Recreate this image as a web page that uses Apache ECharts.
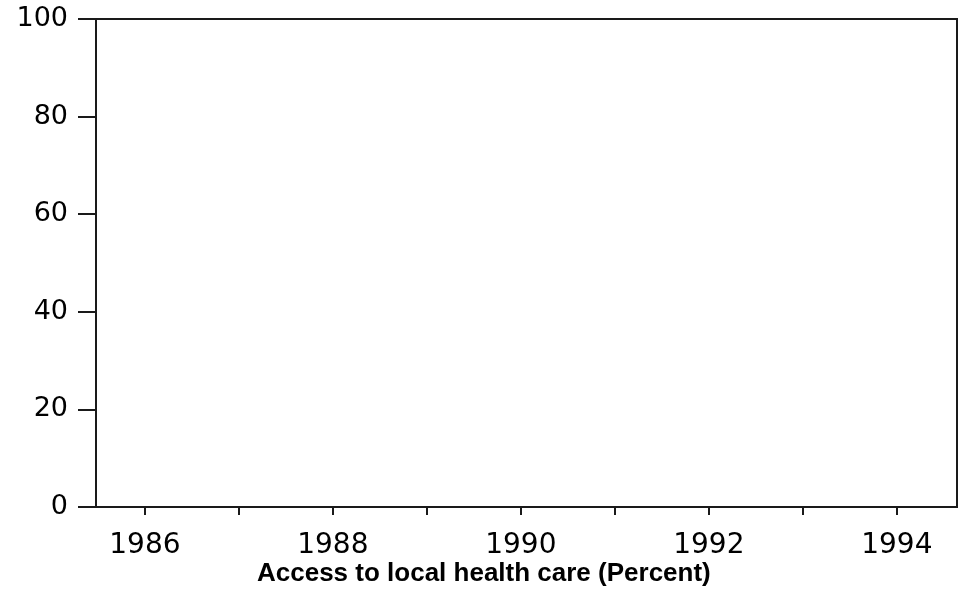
<!DOCTYPE html>
<html>
<head>
<meta charset="utf-8">
<script src="https://cdn.jsdelivr.net/npm/echarts@6/dist/echarts.min.js"></script>
<style>
html, body { margin: 0; padding: 0; background: #fff; }
#main { width: 958px; height: 591px; }
</style>
</head>
<body>
<div id="main"></div>
<script>
// years with a tick, years with a label
var tickYears = [1986, 1987, 1988, 1989, 1990, 1991, 1992, 1993, 1994];
var labelYears = [1986, 1988, 1990, 1992, 1994];
var yTicks = [0, 20, 40, 60, 80, 100];
// no data points are drawn in the original
var seriesValues = [];

var chart = echarts.init(document.getElementById('main'));

var lineColor = '#1a1a1a';

var option = {
    animation: false,
    title: {
        text: 'Access to local health care (Percent)',
        left: 252,
        top: 556,
        textStyle: {
            fontFamily: 'Liberation Sans',
            fontWeight: 'bold',
            fontSize: 26,
            color: '#000'
        }
    },
    grid: {
        left: 96,
        top: 19,
        right: 1,
        bottom: 84,
        show: true,
        borderColor: lineColor,
        borderWidth: 2,
        backgroundColor: '#fff'
    },
    xAxis: {
        type: 'value',
        min: 1985.48,
        max: 1994.64,
        splitLine: { show: false },
        axisLine: { lineStyle: { color: lineColor, width: 2 } },
        axisTick: {
            length: 8,
            customValues: tickYears,
            lineStyle: { color: lineColor, width: 2 }
        },
        axisLabel: {
            customValues: labelYears,
            margin: 25,
            color: '#000',
            fontFamily: 'DejaVu Sans',
            fontSize: 28,
            formatter: function (v) { return String(v); }
        }
    },
    yAxis: {
        type: 'value',
        min: 0,
        max: 100,
        interval: 20,
        splitLine: { show: false },
        axisLine: { show: true, lineStyle: { color: lineColor, width: 2 } },
        axisTick: {
            show: true,
            length: 18,
            customValues: yTicks,
            lineStyle: { color: lineColor, width: 2 }
        },
        axisLabel: {
            margin: 28,
            color: '#000',
            fontFamily: 'DejaVu Sans',
            fontSize: 27
        }
    },
    series: [{
        type: 'line',
        data: seriesValues
    }]
};

chart.setOption(option);
window.addEventListener('resize', function () {
    chart.resize();
});
</script>
</body>
</html>
